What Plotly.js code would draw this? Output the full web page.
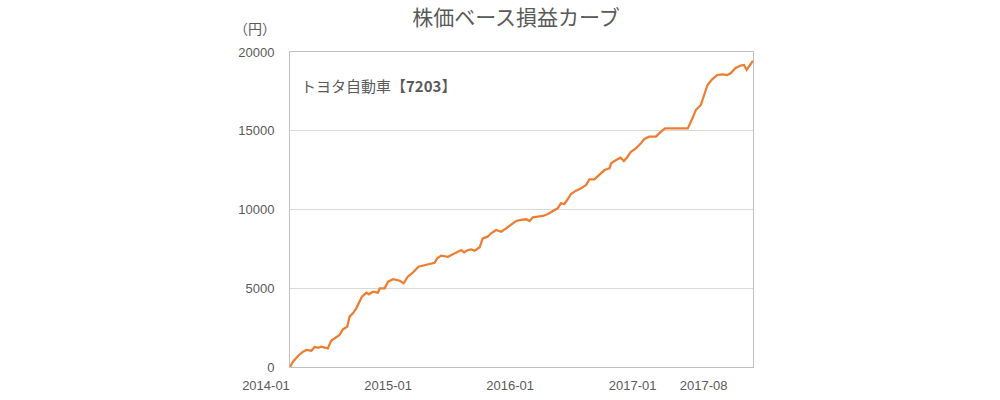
<!DOCTYPE html>
<html>
<head>
<meta charset="utf-8">
<script src="https://cdn.plot.ly/plotly-3.0.1.min.js"></script>
<style>html,body{margin:0;padding:0;background:#fff;}#chart{width:1000px;height:400px;}</style>
</head>
<body>
<div id="chart"></div>
<script>
const chartTitle = '株価ベース損益カーブ';
const seriesLabel = 'トヨタ自動車【<b>7203</b>】';
const unitLabel = '（円）';

const dates = [
'2014-01-01','2014-01-10','2014-01-25','2014-02-09','2014-02-19','2014-03-06','2014-03-16','2014-03-26','2014-04-04','2014-04-15',
'2014-04-24','2014-05-04','2014-05-19','2014-05-29','2014-06-08','2014-06-21','2014-06-28','2014-07-08','2014-07-18','2014-07-28',
'2014-08-04','2014-08-17','2014-08-25','2014-09-06','2014-09-21','2014-09-26','2014-10-11','2014-10-21','2014-11-05','2014-11-25',
'2014-12-07','2014-12-19','2015-01-03','2015-01-20','2015-02-02','2015-02-22','2015-03-09','2015-03-17','2015-03-29','2015-04-18',
'2015-05-03','2015-05-18','2015-05-28','2015-06-05','2015-06-17','2015-06-27','2015-07-07','2015-07-22','2015-07-31','2015-08-15',
'2015-08-25','2015-09-09','2015-09-24','2015-10-09','2015-10-24','2015-11-08','2015-11-23','2015-12-08','2015-12-18','2015-12-28',
'2016-01-12','2016-01-27','2016-02-11','2016-02-26','2016-03-11','2016-03-21','2016-03-31','2016-04-10','2016-04-20','2016-05-05',
'2016-05-20','2016-06-04','2016-06-14','2016-06-29','2016-07-14','2016-07-29','2016-08-13','2016-08-18','2016-09-02','2016-09-15',
'2016-09-25','2016-10-06','2016-10-16','2016-10-31','2016-11-15','2016-11-25','2016-12-10','2016-12-30','2017-01-14','2017-01-26',
'2017-02-13','2017-03-05','2017-03-25','2017-04-04','2017-04-18','2017-04-28','2017-05-13','2017-05-22','2017-06-02','2017-06-16',
'2017-07-01','2017-07-16','2017-07-31','2017-08-10','2017-08-25','2017-09-09','2017-09-19','2017-09-27','2017-10-04','2017-10-16'
];
const profit = [
0,340,700,970,1080,1035,1290,1225,1290,1250,
1185,1670,1860,2030,2390,2560,3195,3410,3725,4145,
4465,4720,4615,4780,4720,5000,5000,5415,5570,5480,
5315,5735,5990,6370,6430,6520,6620,6900,7070,7000,
7175,7320,7430,7280,7430,7470,7385,7600,8170,8275,
8490,8700,8590,8805,9015,9270,9335,9380,9270,9505,
9545,9590,9715,9905,10075,10395,10350,10650,10985,11195,
11345,11555,11915,11915,12230,12505,12615,12935,13140,13290,
13080,13350,13670,13885,14200,14475,14625,14625,14940,15150,
15150,15150,15195,15150,15790,16315,16635,17160,17905,18265,
18540,18585,18540,18650,18985,19140,19175,18860,19110,19450
];
const xTickVals = ['2014-01-01','2015-01-01','2016-01-01','2017-01-01','2017-08-01'];
const xTickText = ['2014-01','2015-01','2016-01','2017-01','2017-08'];
const yTickVals = [0,5000,10000,15000,20000];
const yTickText = ['0','5000','10000','15000','20000'];

const gray = '#595959';
const trace = {
  x: dates, y: profit, type: 'scatter', mode: 'lines',
  line: {color: '#ED7D31', width: 2.25},
  hoverinfo: 'x+y'
};
const layout = {
  width: 1000, height: 400,
  margin: {l: 290, r: 247, t: 52, b: 33},
  paper_bgcolor: '#ffffff', plot_bgcolor: '#ffffff',
  showlegend: false,
  font: {family: '"Liberation Sans", "Noto Sans CJK JP", sans-serif', color: gray, size: 13},
  title: {
    text: chartTitle, xref: 'container', x: 0.516, xanchor: 'center',
    yref: 'container', y: 0.955, yanchor: 'middle',
    font: {family: '"Noto Sans CJK JP", sans-serif', size: 21, color: gray}
  },
  xaxis: {
    type: 'date', range: ['2014-01-01', '2017-10-16'],
    tickmode: 'array', tickvals: xTickVals, ticktext: xTickText,
    ticks: '', showgrid: false, zeroline: false,
    showline: true, mirror: true, linecolor: '#bfbfbf', linewidth: 1,
    ticklabelshift: -24, ticklabelstandoff: 6,
    tickfont: {size: 13, color: gray}
  },
  yaxis: {
    range: [0, 20000], tickmode: 'array', tickvals: yTickVals, ticktext: yTickText,
    ticks: '', showgrid: true, gridcolor: '#d9d9d9', gridwidth: 1, zeroline: false,
    showline: true, mirror: true, linecolor: '#bfbfbf', linewidth: 1,
    ticklabelstandoff: 12,
    tickfont: {size: 13, color: gray}
  },
  annotations: [
    {text: unitLabel, xref: 'paper', yref: 'paper', x: -0.0, y: 1, xshift: -12, yshift: 24,
     xanchor: 'right', yanchor: 'middle', showarrow: false,
     font: {family: '"Noto Sans CJK JP", sans-serif', size: 14, color: gray}},
    {text: seriesLabel, xref: 'paper', yref: 'paper', x: 0, y: 1, xshift: 9, yshift: -33,
     xanchor: 'left', yanchor: 'middle', showarrow: false,
     font: {family: '"Noto Sans CJK JP", sans-serif', size: 15, color: gray}}
  ]
};
Plotly.newPlot('chart', [trace], layout, {displayModeBar: false, staticPlot: true});
</script>
</body>
</html>
